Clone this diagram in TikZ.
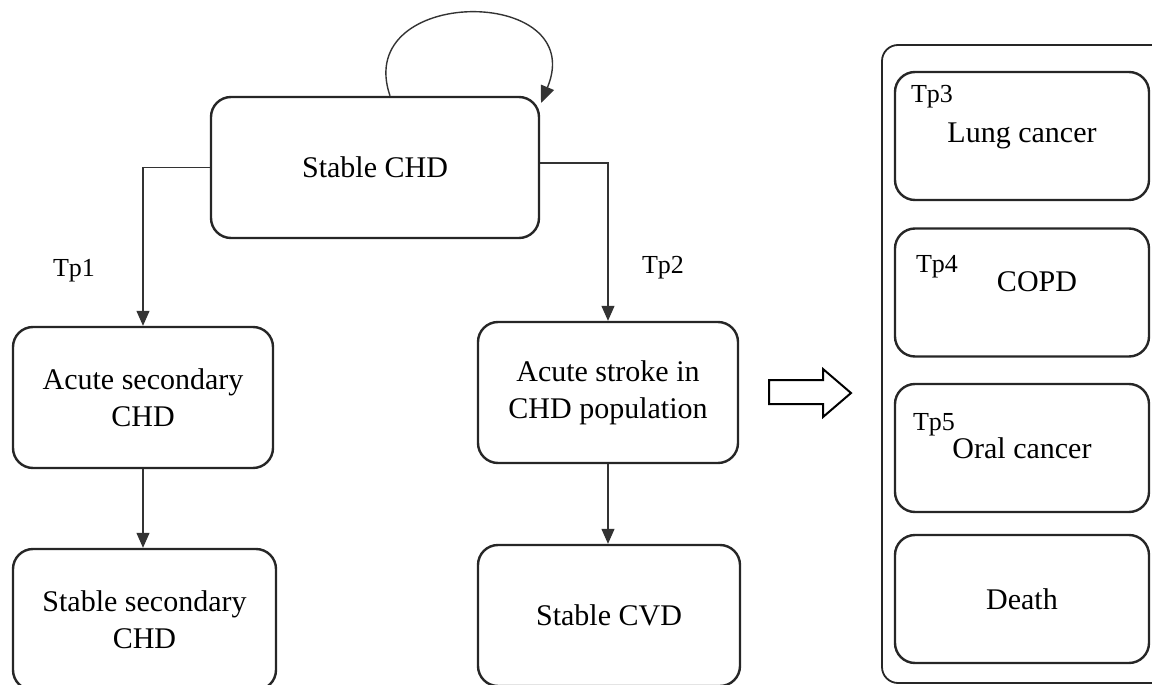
\documentclass[tikz,border=0pt]{standalone}
\usepackage{fontspec}
\setmainfont{Liberation Serif}
\usetikzlibrary{arrows.meta}
\tikzset{>={Triangle[width=13pt,length=15pt]}}
\tikzstyle{state}=[draw=black!85, line width=2.4pt, rounded corners=20pt, align=center, font=\fontsize{30}{37}\selectfont, inner sep=0pt, minimum width=260pt, minimum height=141pt]
\tikzstyle{outcome}=[state, minimum width=254pt, minimum height=128pt]
\tikzstyle{tp}=[font=\fontsize{26}{30}\selectfont, inner sep=0pt]
\tikzstyle{link}=[->, line width=1.2pt, black!80]

\begin{document}
\begin{tikzpicture}[x=1pt,y=-1pt]
            \clip (0,0) rectangle (1152,685);
            \node[state, minimum width=328pt] (stable) at (375,167.5) {Stable CHD};
            \node[state] (acutesec) at (143,397.5) {Acute secondary\\CHD};
            \node[state, minimum width=263pt] (stablesec) at (144.5,619.5) {Stable secondary\\CHD};
            \node[state] (acutestroke) at (608,392.5) {Acute stroke in\\CHD population};
            \node[state, minimum width=262pt] (stablecvd) at (609,615.5) {Stable CVD};
            \node[tp] (tpone) at (74,271) {Tp1};
            \node[tp] (tptwo) at (663,268) {Tp2};
            \coordinate (loopstart) at ([xshift=15pt]stable.north);
            \coordinate (loopend) at (541,103);
            \draw[link, line width=1.4pt, >={Triangle[width=14pt,length=17pt]}] (loopstart) .. controls (352,-15) and (590,-15) .. (loopend);
            \draw[link] (stable.west) -| (acutesec.north);
            \draw[link] ([yshift=4.5pt]stable.east) -| (acutestroke.north);
            \draw[link] (acutesec.south) -- (acutesec.south |- stablesec.north);
            \draw[link] (acutestroke.south) -- (acutestroke.south |- stablecvd.north);
            \draw[line width=2pt] (769,380) -- (823,380) -- (823,369) -- (851,393) -- (823,417) -- (823,404) -- (769,404) -- cycle;
            \draw[line width=1.8pt, draw=black!85, rounded corners=16pt] (882,45) rectangle (1170,683);
            \node[outcome] (lung) at (1022,136) {Lung cancer};
            \node[outcome] (copd) at (1022,292.5) {};
            \node[outcome] (oral) at (1022,448) {Oral cancer};
            \node[outcome] (death) at (1022,599) {Death};
            \node[tp] (tpthree) at (932,97) {Tp3};
            \node[tp] (tpfour) at (937,267) {Tp4};
            \node[font=\fontsize{30}{37}\selectfont, inner sep=0pt] (copdtext) at (1037,282) {COPD};
            \node[tp] (tpfive) at (934,425) {Tp5};
        \end{tikzpicture}
\end{document}
